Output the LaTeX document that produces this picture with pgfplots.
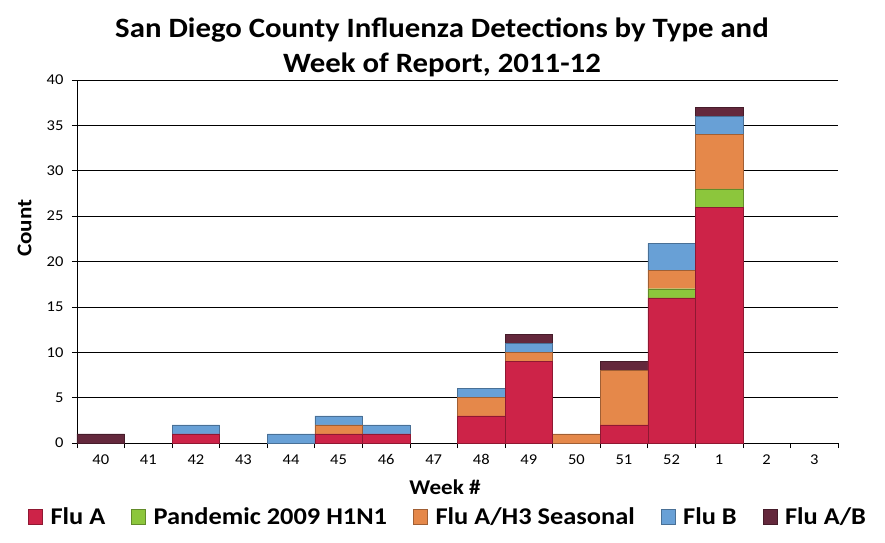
\documentclass[border=0pt]{standalone}
\usepackage{pgfplots}
\pgfplotsset{compat=1.18}
\usepackage{fontspec}
\setmainfont{Carlito}[FakeStretch=1.1]
\definecolor{fluA}{RGB}{205,35,72}
\definecolor{hini}{RGB}{140,198,60}
\definecolor{hiii}{RGB}{229,136,74}
\definecolor{fluB}{RGB}{104,160,214}
\definecolor{fluAB}{RGB}{100,40,60}
\begin{document}
\begin{tikzpicture}
\path[use as bounding box] (-77pt,-99pt) rectangle (808pt,443pt);
\begin{axis}[
  at={(0,0)}, anchor=south west,
  scale only axis, width=761pt, height=363pt,
  ybar stacked, bar width=1,
  xmin=-0.5, xmax=15.5, ymin=0, ymax=40,
  axis x line*=bottom, axis y line*=left,
  axis line style={black, line width=0.8pt},
  xtick={-0.5,0.5,...,15.5},
  x tick label as interval,
  xticklabels={40,41,42,43,44,45,46,47,48,49,50,51,52,1,2,3},
  ytick={0,5,...,40},
  ymajorgrids, grid style={black, line width=0.7pt},
  tick align=outside, major tick length=5pt,
  tick style={black, line width=0.7pt},
  /pgf/number format/assume math mode=true,
  ticklabel style={font=\fontsize{15}{15}\selectfont},
  xticklabel style={yshift=-3pt},
  yticklabel style={xshift=-5pt},
  xlabel={\bfseries Week \#},
  xlabel style={font=\fontsize{21}{21}\selectfont, at={(rel axis cs:0.4836,-0.121)}, anchor=center},
  ylabel={\bfseries Count},
  ylabel style={font=\fontsize{21}{21}\selectfont, at={(rel axis cs:-0.069,0.592)}, anchor=center, rotate=0},
  title={\bfseries San Diego County Influenza Detections by Type and\\\bfseries Week of Report, 2011-12},
  title style={font=\fontsize{28}{35}\selectfont, align=center, at={(rel axis cs:0.4796,1.073)}, anchor=center},
  legend columns=5,
  legend style={draw=none, fill=none, font=\fontsize{24}{24}\selectfont\bfseries,
    at={(rel axis cs:0.4876,-0.204)}, anchor=center,
    /tikz/every odd column/.append style={column sep=6pt},
    /tikz/every even column/.append style={column sep=24pt}},
  legend image code/.code={\fill[#1] (0pt,-7pt) rectangle (14pt,8pt);},
]
\addplot[fill=fluA, draw=fluA!70!black, line width=0.4pt] coordinates {
(0,0) (1,0) (2,1) (3,0) (4,0) (5,1) (6,1) (7,0) (8,3) (9,9) (10,0) (11,2) (12,16) (13,26) (14,0) (15,0)};
\addplot[fill=hini, draw=hini!70!black, line width=0.4pt] coordinates {
(0,0) (1,0) (2,0) (3,0) (4,0) (5,0) (6,0) (7,0) (8,0) (9,0) (10,0) (11,0) (12,1) (13,2) (14,0) (15,0)};
\addplot[fill=hiii, draw=hiii!70!black, line width=0.4pt] coordinates {
(0,0) (1,0) (2,0) (3,0) (4,0) (5,1) (6,0) (7,0) (8,2) (9,1) (10,1) (11,6) (12,2) (13,6) (14,0) (15,0)};
\addplot[fill=fluB, draw=fluB!70!black, line width=0.4pt] coordinates {
(0,0) (1,0) (2,1) (3,0) (4,1) (5,1) (6,1) (7,0) (8,1) (9,1) (10,0) (11,0) (12,3) (13,2) (14,0) (15,0)};
\addplot[fill=fluAB, draw=fluAB!70!black, line width=0.4pt] coordinates {
(0,1) (1,0) (2,0) (3,0) (4,0) (5,0) (6,0) (7,0) (8,0) (9,1) (10,0) (11,1) (12,0) (13,1) (14,0) (15,0)};
\legend{Flu A, Pandemic 2009 H1N1, Flu A/H3 Seasonal, Flu B, Flu A/B}
\end{axis}
\end{tikzpicture}
\end{document}
